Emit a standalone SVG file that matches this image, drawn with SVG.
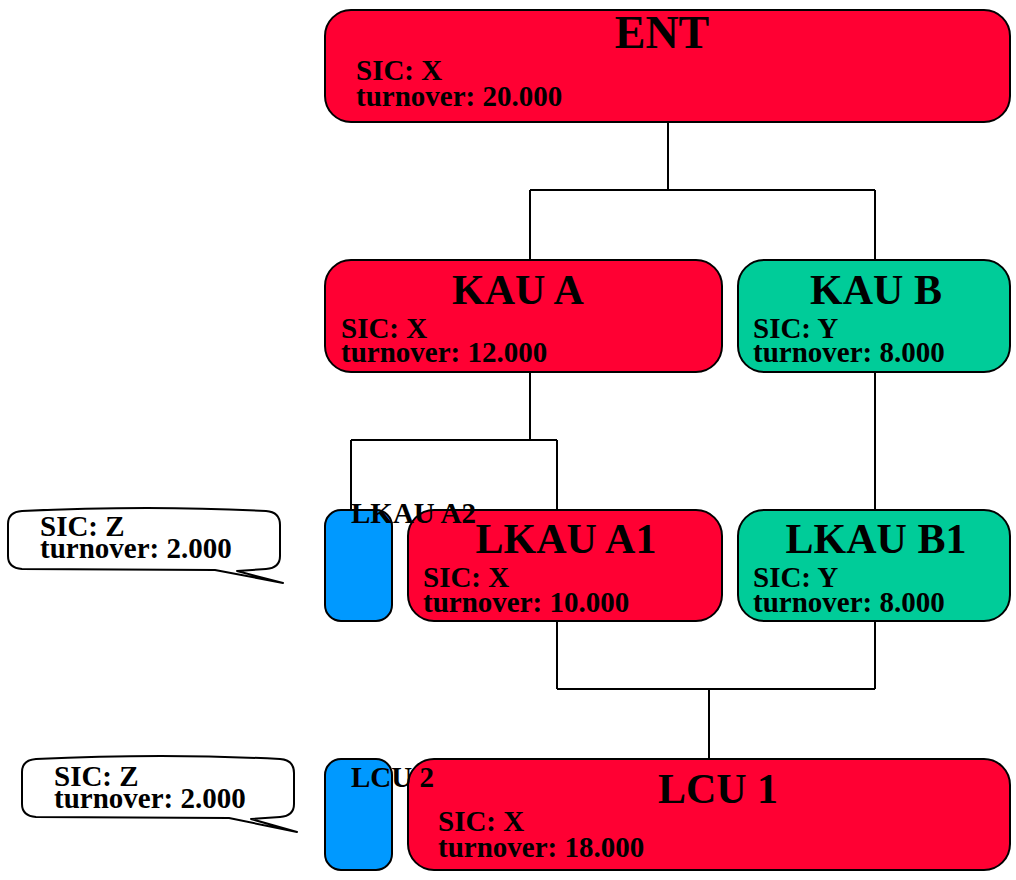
<svg xmlns="http://www.w3.org/2000/svg" width="1016" height="880" viewBox="0 0 1016 880">
<style>
.box{stroke:#000;stroke-width:2}
.red{fill:#FF0033}
.green{fill:#00CC99}
.blue{fill:#0099FF}
text{font-family:"Liberation Serif","Times New Roman",serif;font-weight:bold;fill:#000}
.title{font-size:42px;text-anchor:middle}
.info{font-size:29px}
.lbl{font-size:29px}
.conn{fill:none;stroke:#000;stroke-width:2}
.bubble{fill:#fff;stroke:#000;stroke-width:2;stroke-linejoin:round}
</style>
<rect width="1016" height="880" fill="#fff"/>
<g id="connectors">
<path class="conn" d="M668,122 V190 M530,190 H875 M530,190 V260 M875,190 V260"/>
<path class="conn" d="M530,372 V440 M351,440 H557 M351,440 V510 M557,440 V510"/>
<path class="conn" d="M875,372 V510"/>
<path class="conn" d="M557,621 V689 M875,621 V689 M557,689 H875 M709,689 V759"/>
</g>
<g id="ENT">
<rect class="box red" x="325" y="10" width="685" height="112" rx="26"/>
<text class="title" x="662" y="48" style="font-size:46px">ENT</text>
<text class="info" x="356" y="80">SIC: X</text>
<text class="info" x="356" y="106">turnover: 20.000</text>
</g>
<g id="KAU_A">
<rect class="box red" x="325" y="260" width="397" height="112" rx="26"/>
<text class="title" x="518" y="304">KAU A</text>
<text class="info" x="341" y="338">SIC: X</text>
<text class="info" x="341" y="362">turnover: 12.000</text>
</g>
<g id="KAU_B">
<rect class="box green" x="738" y="260" width="272" height="112" rx="26"/>
<text class="title" x="876" y="304">KAU B</text>
<text class="info" x="753" y="338">SIC: Y</text>
<text class="info" x="753" y="362">turnover: 8.000</text>
</g>
<g id="LKAU_A2">
<rect class="box blue" x="325" y="510" width="67" height="111" rx="16"/>
</g>
<g id="LKAU_A1">
<rect class="box red" x="408" y="510" width="314" height="111" rx="26"/>
<text class="title" x="566" y="553">LKAU A1</text>
<text class="info" x="423" y="587">SIC: X</text>
<text class="info" x="423" y="612">turnover: 10.000</text>
</g>
<text class="lbl" x="351" y="523">LKAU A2</text>
<g id="LKAU_B1">
<rect class="box green" x="738" y="510" width="272" height="111" rx="26"/>
<text class="title" x="876" y="553">LKAU B1</text>
<text class="info" x="753" y="587">SIC: Y</text>
<text class="info" x="753" y="612">turnover: 8.000</text>
</g>
<g id="LCU_2">
<rect class="box blue" x="325" y="759" width="67" height="111" rx="16"/>
</g>
<g id="LCU_1">
<rect class="box red" x="408" y="759" width="602" height="111" rx="26"/>
<text class="title" x="718" y="803">LCU 1</text>
<text class="info" x="438" y="831">SIC: X</text>
<text class="info" x="438" y="857">turnover: 18.000</text>
</g>
<text class="lbl" x="351" y="787">LCU 2</text>
<g id="bubble_LKAU_A2">
<path class="bubble" d="M22,511 Q150,505 266,511 Q280,512 280,525 L280,556 Q280,568 266,569 L237,571 L283,583 L215,570 L22,569 Q8,568 8,556 L8,524 Q8,512 22,511 Z"/>
<text class="info" x="40" y="536">SIC: Z</text>
<text class="info" x="40" y="558">turnover: 2.000</text>
</g>
<g id="bubble_LCU_2" transform="translate(14,248)">
<path class="bubble" d="M22,511 Q150,505 266,511 Q280,512 280,525 L280,556 Q280,568 266,569 L237,571 L283,584 L215,570 L22,569 Q8,568 8,556 L8,524 Q8,512 22,511 Z"/>
<text class="info" x="40" y="538">SIC: Z</text>
<text class="info" x="40" y="560">turnover: 2.000</text>
</g>
</svg>
